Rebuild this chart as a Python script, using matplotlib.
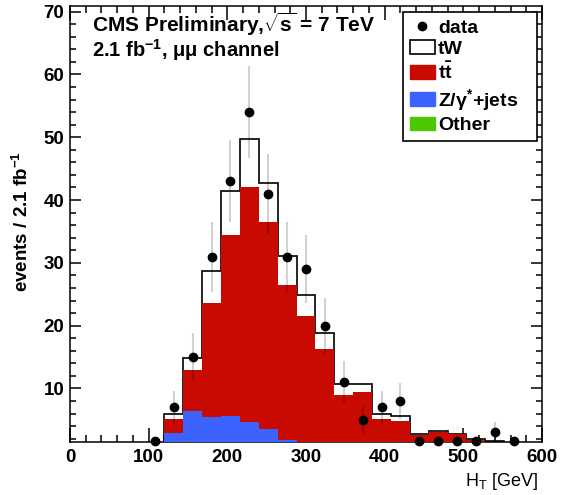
import numpy as np
import matplotlib
matplotlib.use("Agg")
import matplotlib.pyplot as plt
from matplotlib.lines import Line2D
from matplotlib.patches import Patch
from matplotlib.ticker import MultipleLocator

plt.rcParams['font.family'] = ['Liberation Sans', 'DejaVu Sans']
plt.rcParams['mathtext.fontset'] = 'custom'
plt.rcParams['mathtext.rm'] = 'Liberation Sans'
plt.rcParams['mathtext.it'] = 'Liberation Sans:italic'
plt.rcParams['mathtext.bf'] = 'Liberation Sans:bold'

# ---- data (25 bins of 24 GeV from 0 to 600) ----
bin_edges = np.arange(0, 601, 24)
data_counts = [0, 0, 0, 0, 1, 7, 15, 31, 43, 54, 41, 31, 29, 20, 11, 5, 7, 8,
               1, 1, 1, 1, 3, 1, 0]
other = [0, 0, 0, 0, 0, 0.2, 0.4, 0.5, 0.6, 0.6, 0.5, 0.4, 0.4, 0.3, 0.3, 0.2,
         0.2, 0.2, 0.1, 0.1, 0.1, 0.1, 0.1, 0, 0]
zjets = [0, 0, 0, 0, 0, 2.63, 6.0, 4.9, 5.0, 4.1, 3.0, 1.4, 1.1, 0.9, 0.7, 0.6,
         0.4, 0.3, 0.3, 0.2, 0.2, 0.1, 0.1, 0, 0]
ttbar = [0, 0, 0, 0, 0, 2.23, 6.6, 18.2, 28.8, 37.3, 33.0, 24.7, 20.1, 15.0,
         8.0, 8.6, 4.5, 4.3, 2.2, 2.8, 2.4, 1.6, 1.3, 0, 0]
tw = [0, 0, 0, 0, 0, 0.94, 1.9, 5.1, 7.0, 7.7, 6.2, 4.6, 3.3, 2.6, 1.7, 1.3,
      0.9, 0.8, 0.2, 0.1, 0.1, 0.1, 0.05, 0, 0]

legend_labels = ["data", "tW", r"t$\mathbf{\bar{t}}$", r"Z/γ$^{\mathbf{*}}$+jets", "Other"]

c_red = "#c80a00"
c_blue = "#3d63ff"
c_green = "#4cc800"

YMIN, YMAX = 1.47, 70.9

fig = plt.figure(figsize=(5.69, 4.95), dpi=100)
ax = fig.add_axes([70/569, 1-442/495, 472/569, 436/495])

left = bin_edges[:-1]
w = np.diff(bin_edges)
o = np.array(other); z = np.array(zjets); t = np.array(ttbar); s = np.array(tw)
total = o + z + t + s

# total outline (tW on top of stack)
ax.stairs(total, bin_edges, color="black", lw=1.2, baseline=0, zorder=2)
ax.bar(left, t, width=w, bottom=o + z, align="edge", color=c_red, lw=0, zorder=3)
ax.bar(left, z, width=w, bottom=o, align="edge", color=c_blue, lw=0, zorder=3)
ax.bar(left, o, width=w, bottom=0, align="edge", color=c_green, lw=0, zorder=3)

# data
d = np.array(data_counts, dtype=float)
centers = 0.5 * (bin_edges[:-1] + bin_edges[1:])
m = d > 0
err = np.sqrt(d[m])
ax.vlines(centers[m], d[m] - err, d[m] + err, color="black", alpha=0.18, lw=1.5, zorder=5)
ax.plot(centers[m], np.clip(d[m], YMIN + 0.2, None), "o", color="black", ms=6,
        zorder=6, clip_on=False)

ax.set_xlim(0, 600)
ax.set_ylim(YMIN, YMAX)
ax.xaxis.set_major_locator(MultipleLocator(100))
ax.xaxis.set_minor_locator(MultipleLocator(20))
ax.yaxis.set_major_locator(MultipleLocator(10))
ax.yaxis.set_minor_locator(MultipleLocator(2))
ax.tick_params(which="both", direction="in", top=True, right=True, width=1.1)
ax.tick_params(axis="x", which="major", length=10, pad=5)
ax.tick_params(axis="x", which="minor", length=5)
ax.tick_params(axis="y", which="major", length=8, pad=4)
ax.tick_params(axis="y", which="minor", length=4.5)
ax.set_yticks([10, 20, 30, 40, 50, 60, 70])
for lab in ax.get_xticklabels() + ax.get_yticklabels():
    lab.set_fontweight("bold")
    lab.set_fontsize(13.5)
for sp in ax.spines.values():
    sp.set_linewidth(1.1)

ax.set_ylabel(r"events / 2.1 fb$^{\mathbf{-1}}$", fontsize=13.5, fontweight="bold")
ax.yaxis.set_label_coords(-0.08, 0.505)
ax.text(0.9915, -0.091, r"H$_\mathrm{T}$ [GeV]", transform=ax.transAxes,
        ha="right", va="center", fontsize=13)

ax.text(0.046, 0.941, r"CMS Preliminary,$\sqrt{\mathbf{s}}$ = 7 TeV",
        transform=ax.transAxes, fontsize=15, fontweight="bold", va="baseline")
ax.text(0.046, 0.883, r"2.1 fb$^{\mathbf{-1}}$, μμ channel",
        transform=ax.transAxes, fontsize=14.5, fontweight="bold", va="baseline")

handles = [Line2D([], [], marker="o", color="black", ls="none", ms=6),
           Patch(facecolor="white", edgecolor="black", lw=1.2),
           Patch(facecolor=c_red, edgecolor=c_red),
           Patch(facecolor=c_blue, edgecolor=c_blue),
           Patch(facecolor=c_green, edgecolor=c_green)]
leg = ax.legend(handles, legend_labels, loc="upper left",
                bbox_to_anchor=(0.705, 0.986, 0.284, 0), mode="expand",
                frameon=True, fancybox=False, edgecolor="black", framealpha=1,
                prop={"size": 14, "weight": "bold"}, handlelength=1.3, handleheight=0.7,
                handletextpad=0.15, labelspacing=0.2, borderpad=0.35, borderaxespad=0)
leg.get_frame().set_linewidth(1.2)
leg.set_zorder(10)

fig.savefig("out.png", dpi=100)
